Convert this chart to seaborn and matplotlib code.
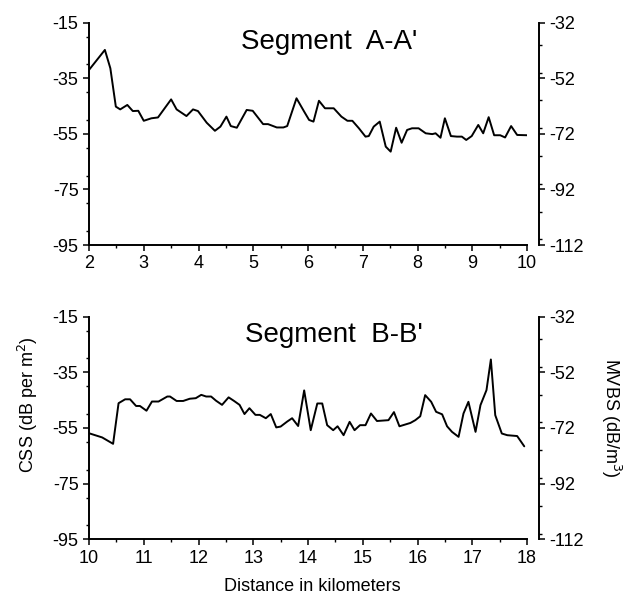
import numpy as np
import pandas as pd
import matplotlib
matplotlib.use("Agg")
import matplotlib.pyplot as plt
from matplotlib.ticker import MultipleLocator
import seaborn as sns

# Segment A-A' (distance in km, CSS in dB per m^2)
a_km = [2.0, 2.29, 2.39, 2.49, 2.57, 2.7, 2.8, 2.9, 3.0, 3.14, 3.26, 3.5, 3.6, 3.78,
        3.9, 3.99, 4.15, 4.3, 4.4, 4.51, 4.59, 4.7, 4.88, 4.99, 5.18, 5.27, 5.43,
        5.55, 5.62, 5.79, 5.93, 6.02, 6.1, 6.2, 6.31, 6.47, 6.61, 6.72, 6.81, 6.93,
        7.05, 7.11, 7.2, 7.31, 7.42, 7.51, 7.61, 7.71, 7.81, 7.9, 8.02, 8.15, 8.27,
        8.33, 8.42, 8.5, 8.61, 8.72, 8.81, 8.89, 8.99, 9.11, 9.2, 9.3, 9.4, 9.51,
        9.6, 9.71, 9.82, 10.0]
a_css = [-32.0, -24.8, -31.4, -45.2, -46.2, -44.6, -46.8, -46.7, -50.3, -49.4, -49.1,
         -42.6, -46.2, -48.6, -46.2, -46.8, -51.0, -53.9, -52.4, -48.8, -52.2, -52.8,
         -46.4, -46.7, -51.5, -51.5, -52.7, -52.7, -52.2, -42.2, -47.0, -50.0, -50.6,
         -43.1, -45.8, -45.8, -48.8, -50.3, -50.3, -53.0, -56.0, -55.8, -52.4, -50.6,
         -59.6, -61.4, -52.8, -58.2, -53.6, -53.0, -53.0, -54.8, -55.1, -54.8, -56.4,
         -49.4, -55.8, -56.0, -56.0, -57.2, -55.8, -51.8, -54.8, -49.0, -55.5, -55.5,
         -56.3, -52.2, -55.4, -55.5]

# Segment B-B'
b_km = [10.0, 10.24, 10.44, 10.54, 10.66, 10.75, 10.86, 10.93, 11.05, 11.15, 11.27,
        11.43, 11.48, 11.6, 11.72, 11.84, 11.95, 12.05, 12.14, 12.23, 12.32, 12.43,
        12.55, 12.65, 12.75, 12.84, 12.93, 13.04, 13.12, 13.23, 13.32, 13.42, 13.5,
        13.62, 13.71, 13.82, 13.93, 14.05, 14.17, 14.26, 14.35, 14.46, 14.54, 14.65,
        14.76, 14.85, 14.95, 15.05, 15.15, 15.26, 15.47, 15.57, 15.67, 15.87, 15.96,
        16.05, 16.14, 16.25, 16.34, 16.45, 16.54, 16.63, 16.75, 16.84, 16.93, 17.06,
        17.15, 17.26, 17.34, 17.42, 17.54, 17.64, 17.82, 17.95]
b_css = [-56.9, -58.4, -60.7, -46.1, -44.7, -44.7, -47.1, -47.1, -48.8, -45.5, -45.5,
         -43.7, -43.7, -45.3, -45.3, -44.5, -44.3, -43.1, -43.7, -43.7, -45.2, -46.7,
         -44.0, -45.3, -46.7, -50.0, -47.9, -50.3, -50.3, -51.5, -50.0, -54.8, -54.5,
         -52.7, -51.5, -54.3, -41.5, -55.8, -46.2, -46.2, -54.0, -55.8, -54.4, -57.6,
         -52.8, -55.8, -54.0, -54.0, -49.8, -52.5, -52.2, -49.3, -54.4, -53.2, -52.2,
         -50.8, -43.2, -45.6, -49.2, -50.1, -54.4, -56.4, -58.2, -49.8, -45.6, -56.4,
         -46.8, -41.4, -30.4, -50.4, -57.0, -57.6, -57.9, -61.6]

css_ticks = [-95, -75, -55, -35, -15]
mvbs_ticks = [-112, -92, -72, -52, -32]

sns.set_style("ticks")
plt.rcParams['font.family'] = ['Liberation Sans', 'DejaVu Sans']
plt.rcParams['axes.unicode_minus'] = False
plt.rcParams['text.color'] = 'black'
plt.rcParams['xtick.color'] = 'black'
plt.rcParams['ytick.color'] = 'black'

fig = plt.figure(figsize=(6.25, 5.97), dpi=100)

panels = [
    (a_km, a_css, 2, 10, "Segment  A-A'", [0.1424, 0.5896, 0.7008, 0.3724], 0.548, 0.913),
    (b_km, b_css, 10, 18, "Segment  B-B'", [0.1424, 0.0967, 0.7008, 0.3729], 0.558, 0.919),
]

for km, css, x0, x1, title, rect, tx, ty in panels:
    ax = fig.add_axes(rect)
    df = pd.DataFrame({"km": km, "css": css})
    sns.lineplot(data=df, x="km", y="css", ax=ax, color="black", linewidth=1.4,
                 estimator=None)
    ax.set_xlim(x0, x1)
    ax.set_ylim(-95, -15)
    ax.set_yticks(css_ticks)
    ax.xaxis.set_major_locator(MultipleLocator(1))
    ax.xaxis.set_minor_locator(MultipleLocator(0.5))
    ax.yaxis.set_minor_locator(MultipleLocator(10))
    ax.set_xlabel("")
    ax.set_ylabel("")
    ax.spines['top'].set_visible(False)
    ax.spines['right'].set_visible(False)
    for s in ['left', 'bottom']:
        ax.spines[s].set_linewidth(1.4)
        ax.spines[s].set_color("black")
    ax.tick_params(which="major", length=4, width=1.1, labelsize=13, colors="black")
    ax.tick_params(which="minor", length=2.5, width=1.0, colors="black")
    ax.text(tx, ty, title, transform=ax.transAxes, ha="center", va="center",
            fontsize=20, color="black")

    ax2 = ax.twinx()
    ax2.set_ylim(-112, -32)
    ax2.set_yticks(mvbs_ticks)
    ax2.yaxis.set_minor_locator(MultipleLocator(10))
    for s in ['left', 'top', 'bottom']:
        ax2.spines[s].set_visible(False)
    ax2.spines['right'].set_position(('outward', 8.6))
    ax2.spines['right'].set_linewidth(1.4)
    ax2.spines['right'].set_color("black")
    ax2.tick_params(which="major", length=4, width=1.1, labelsize=13, colors="black")
    ax2.tick_params(which="minor", length=2.5, width=1.0, colors="black")

fig.text(0.045, 0.322, "CSS (dB per m$^2$)", rotation=90, ha="center", va="center",
         fontsize=13, color="black")
fig.text(0.978, 0.30, "MVBS (dB/m$^3$)", rotation=-90, ha="center", va="center",
         fontsize=13, color="black")
fig.text(0.5, 0.018, "Distance in kilometers", ha="center", va="center",
         fontsize=13, color="black")

fig.savefig("out.png", dpi=100)
